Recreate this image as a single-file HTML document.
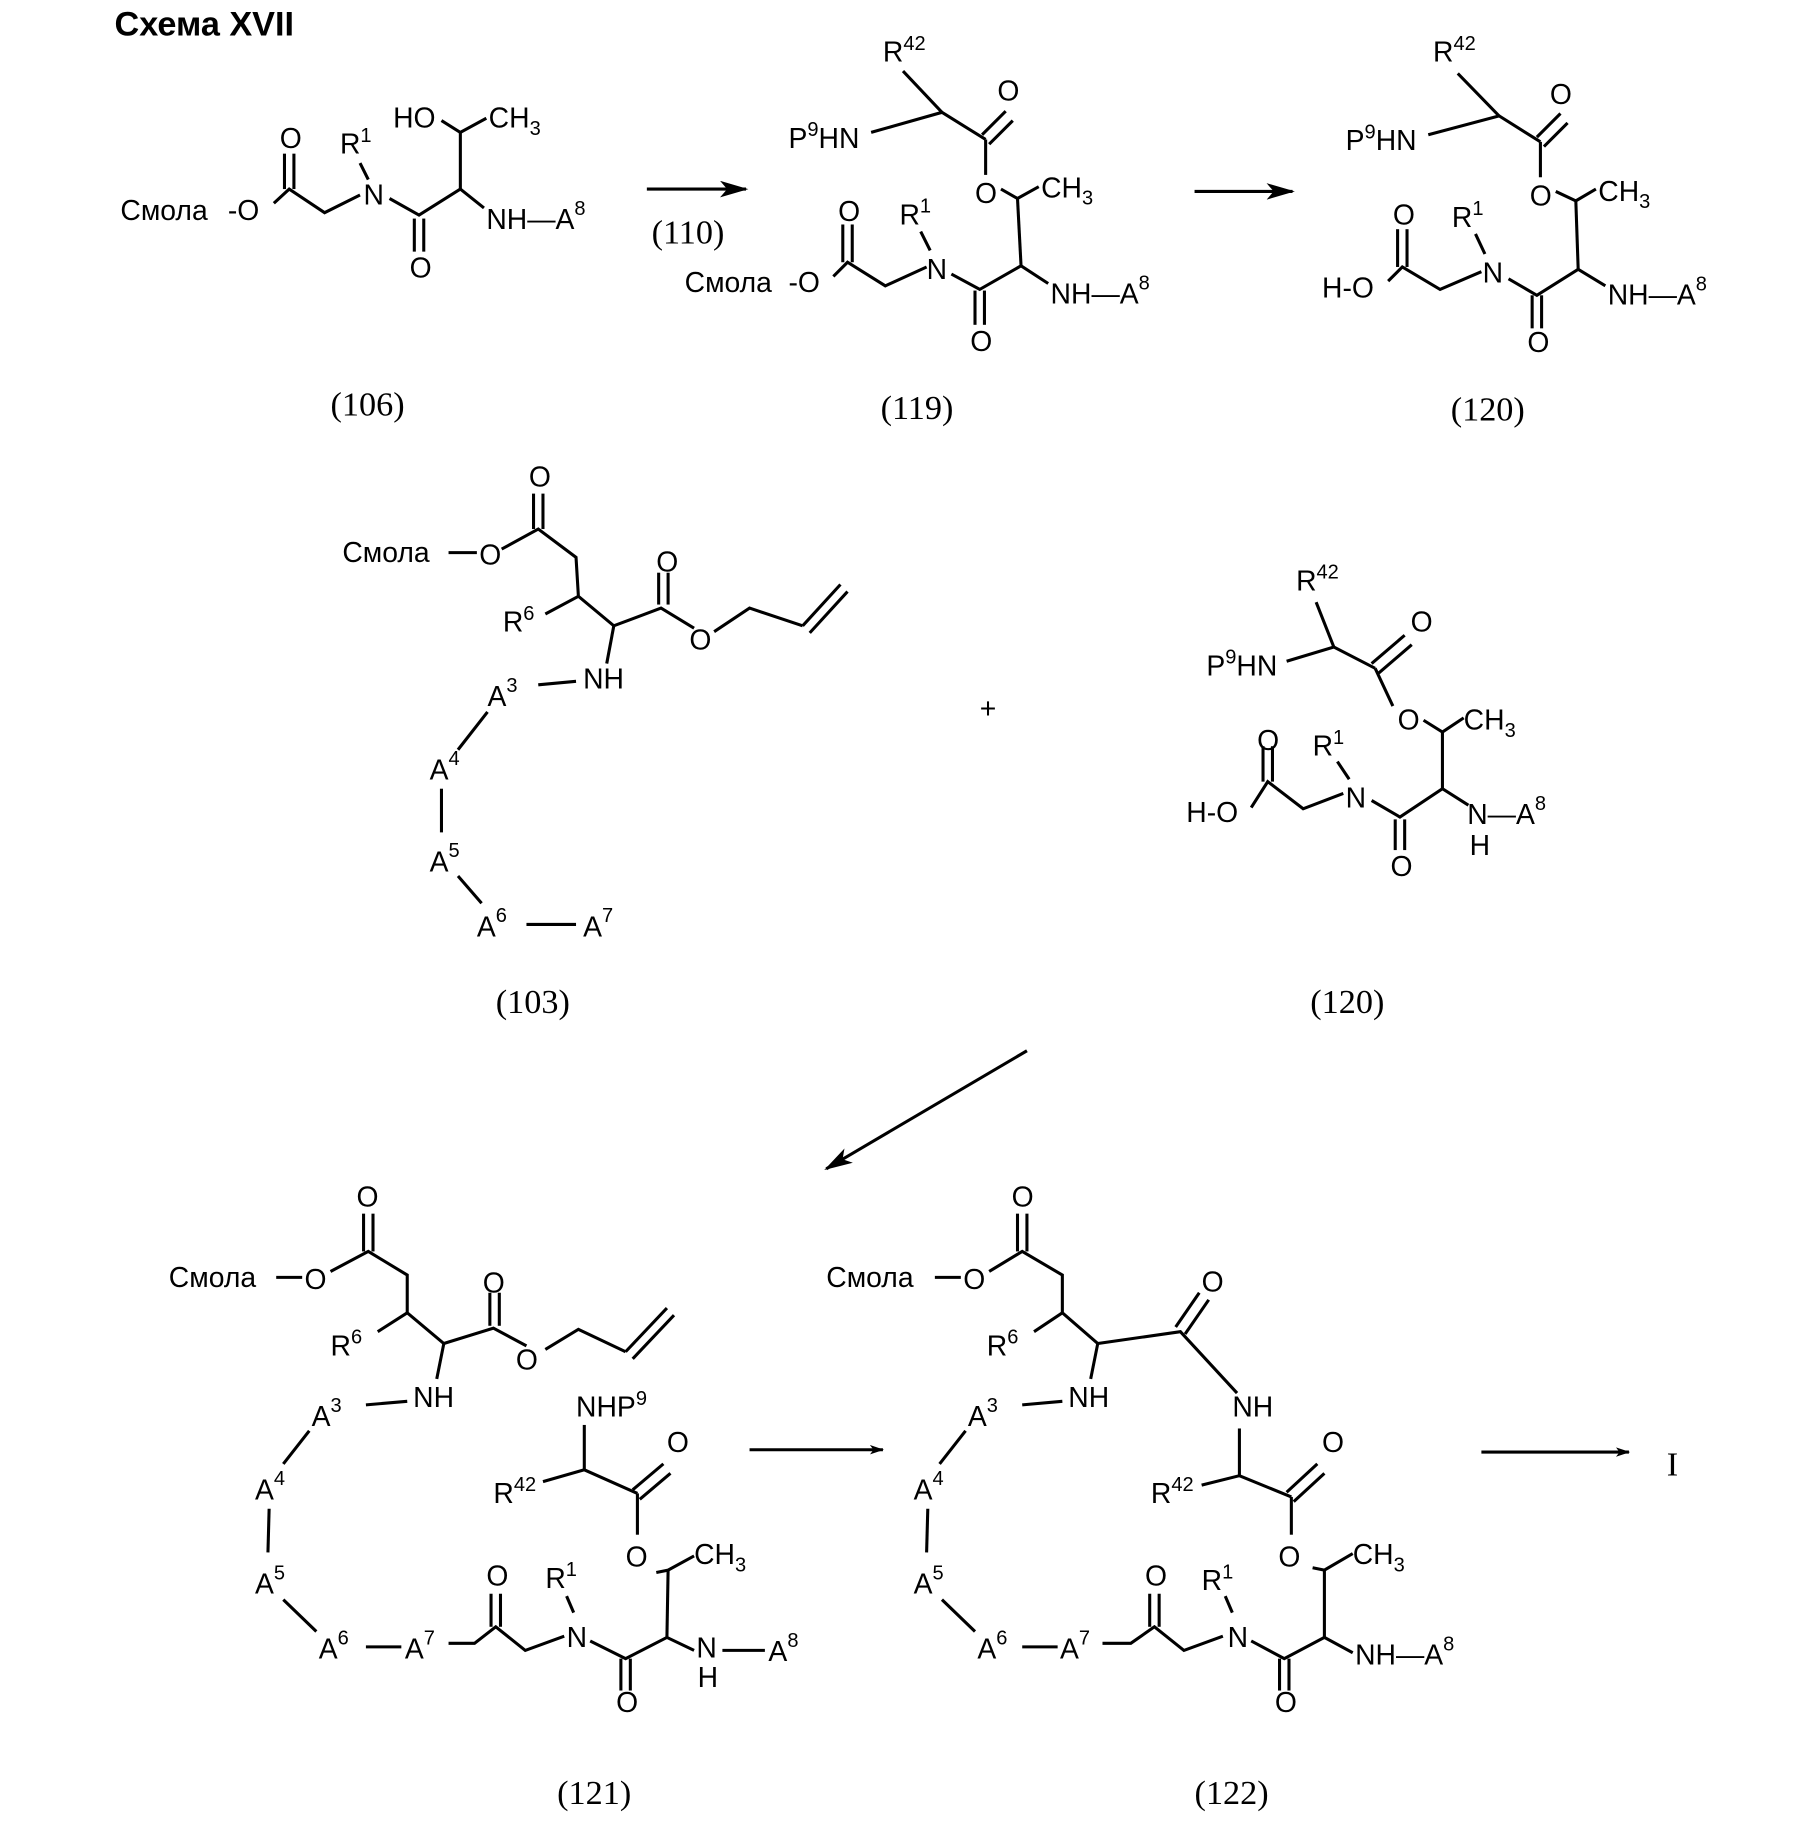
<!DOCTYPE html>
<html><head><meta charset="utf-8"><style>
html,body{margin:0;padding:0;background:#fff}
svg{display:block}
text{font-family:"Liberation Sans",sans-serif;font-size:24px;fill:#000}
.s{font-family:"Liberation Serif",serif;font-size:29px}
.t{font-weight:bold;font-size:29px}
line,polyline{stroke:#000;stroke-width:2.6;fill:none}
</style></head><body>
<svg width="1806" height="1843" viewBox="0 0 1530 1561" xmlns="http://www.w3.org/2000/svg">
<defs><marker id="ah" markerWidth="12" markerHeight="8" refX="11" refY="4" orient="auto" markerUnits="userSpaceOnUse" viewBox="0 0 12 8"><path d="M0,0 L12,4 L0,8 L3,4z" fill="#000"/></marker>
<marker id="ah2" markerWidth="24" markerHeight="14" refX="22" refY="7" orient="auto" markerUnits="userSpaceOnUse" viewBox="0 0 24 14"><path d="M0,0 L24,7 L0,14 L6,7z" fill="#000"/></marker></defs>
<text class="t" x="97" y="30">Схема XVII</text>

<!-- 106 -->
<text x="102" y="186">Смола</text><text x="193" y="186">-O</text>
<polyline points="232,172 245,160 275,180 305,165"/>
<line x1="241" y1="130" x2="241" y2="160"/><line x1="249" y1="130" x2="249" y2="160"/>
<text x="237" y="125">O</text>
<text x="308" y="173">N</text>
<text x="288" y="130">R<tspan dy="-10" font-size="17">1</tspan></text>
<line x1="305" y1="138" x2="312" y2="152"/>
<polyline points="330,168 355,182 390,160"/>
<line x1="351" y1="185" x2="351" y2="213"/><line x1="359" y1="185" x2="359" y2="213"/>
<text x="347" y="235">O</text>
<line x1="390" y1="160" x2="390" y2="112"/>
<line x1="390" y1="112" x2="374" y2="102"/><line x1="390" y1="112" x2="412" y2="100"/>
<text x="333" y="108">HO</text><text x="414" y="108">CH<tspan dy="6" font-size="17">3</tspan></text>
<line x1="390" y1="160" x2="410" y2="176"/>
<text x="412" y="194">NH—A<tspan dy="-12" font-size="17">8</tspan></text>
<line x1="548" y1="160" x2="632" y2="160" marker-end="url(#ah2)"/>
<text class="s" x="552" y="206">(110)</text>
<text class="s" x="280" y="352">(106)</text>

<!-- 119 -->
<text x="748" y="52">R<tspan dy="-10" font-size="17">42</tspan></text>
<text x="668" y="125">P<tspan dy="-10" font-size="17">9</tspan><tspan dy="10">HN</tspan></text>
<polyline points="738,112 798,95 835,118"/><line x1="765" y1="60" x2="798" y2="95"/>
<line x1="832" y1="114" x2="852" y2="94"/><line x1="838" y1="122" x2="858" y2="102"/>
<text x="845" y="85">O</text>
<line x1="835" y1="118" x2="835" y2="148"/>
<text x="826" y="172">O</text>
<polyline points="848,160 862,168 880,158"/>
<text x="882" y="167">CH<tspan dy="6" font-size="17">3</tspan></text>
<line x1="862" y1="168" x2="865" y2="225"/>
<text x="580" y="247">Смола</text><text x="668" y="247">-O</text>
<polyline points="706,234 718,222 750,242 785,226"/>
<line x1="714" y1="190" x2="714" y2="222"/><line x1="722" y1="190" x2="722" y2="222"/>
<text x="710" y="187">O</text>
<text x="785" y="236">N</text>
<text x="762" y="190">R<tspan dy="-10" font-size="17">1</tspan></text>
<line x1="780" y1="196" x2="788" y2="212"/>
<polyline points="806,232 830,245 865,225 888,240"/>
<line x1="826" y1="246" x2="826" y2="275"/><line x1="834" y1="246" x2="834" y2="275"/>
<text x="822" y="297">O</text>
<text x="890" y="257">NH—A<tspan dy="-12" font-size="17">8</tspan></text>
<text class="s" x="746" y="355">(119)</text>
<line x1="1012" y1="162" x2="1095" y2="162" marker-end="url(#ah2)"/>

<!-- 120 top -->
<text x="1214" y="52">R<tspan dy="-10" font-size="17">42</tspan></text>
<text x="1140" y="127">P<tspan dy="-10" font-size="17">9</tspan><tspan dy="10">HN</tspan></text>
<polyline points="1210,114 1270,98 1305,120"/><line x1="1235" y1="62" x2="1270" y2="98"/>
<line x1="1302" y1="116" x2="1322" y2="96"/><line x1="1308" y1="124" x2="1328" y2="104"/>
<text x="1313" y="88">O</text>
<line x1="1305" y1="120" x2="1305" y2="150"/>
<text x="1296" y="174">O</text>
<polyline points="1318,162 1335,170 1352,160"/>
<text x="1354" y="170">CH<tspan dy="6" font-size="17">3</tspan></text>
<line x1="1335" y1="170" x2="1337" y2="228"/>
<text x="1120" y="252">H-O</text>
<polyline points="1176,238 1188,226 1220,245 1255,230"/>
<line x1="1184" y1="194" x2="1184" y2="226"/><line x1="1192" y1="194" x2="1192" y2="226"/>
<text x="1180" y="190">O</text>
<text x="1256" y="239">N</text>
<text x="1230" y="192">R<tspan dy="-10" font-size="17">1</tspan></text>
<line x1="1250" y1="198" x2="1258" y2="215"/>
<polyline points="1278,236 1302,250 1337,228 1360,242"/>
<line x1="1298" y1="250" x2="1298" y2="278"/><line x1="1306" y1="250" x2="1306" y2="278"/>
<text x="1294" y="298">O</text>
<text x="1362" y="258">NH—A<tspan dy="-12" font-size="17">8</tspan></text>
<text class="s" x="1229" y="356">(120)</text>

<!-- 103 -->
<text x="448" y="412">O</text>
<line x1="452" y1="418" x2="452" y2="448"/><line x1="460" y1="418" x2="460" y2="448"/>
<text x="290" y="476">Смола</text><line x1="380" y1="468" x2="404" y2="468"/><text x="406" y="478">O</text>
<polyline points="425,465 456,448 488,472 490,505 520,530 560,515 588,532"/>
<line x1="558" y1="512" x2="558" y2="485"/><line x1="566" y1="512" x2="566" y2="485"/>
<text x="556" y="484">O</text>
<text x="584" y="550">O</text>
<polyline points="605,535 635,515 680,530"/>
<line x1="680" y1="530" x2="712" y2="495"/><line x1="686" y1="536" x2="718" y2="501"/>
<line x1="490" y1="505" x2="462" y2="520"/>
<text x="426" y="535">R<tspan dy="-10" font-size="17">6</tspan></text>
<line x1="520" y1="530" x2="514" y2="562"/>
<text x="494" y="583">NH</text>
<line x1="456" y1="580" x2="488" y2="577"/>
<text x="413" y="598">A<tspan dy="-12" font-size="17">3</tspan></text>
<line x1="413" y1="603" x2="388" y2="635"/>
<text x="364" y="660">A<tspan dy="-12" font-size="17">4</tspan></text>
<line x1="374" y1="668" x2="374" y2="705"/>
<text x="364" y="738">A<tspan dy="-12" font-size="17">5</tspan></text>
<line x1="388" y1="742" x2="408" y2="765"/>
<text x="404" y="793">A<tspan dy="-12" font-size="17">6</tspan></text>
<line x1="446" y1="783" x2="488" y2="783"/>
<text x="494" y="793">A<tspan dy="-12" font-size="17">7</tspan></text>
<text class="s" x="420" y="858">(103)</text>
<text x="830" y="608" font-size="28">+</text>

<!-- 120 middle -->
<text x="1098" y="500">R<tspan dy="-10" font-size="17">42</tspan></text>
<text x="1022" y="572">P<tspan dy="-10" font-size="17">9</tspan><tspan dy="10">HN</tspan></text>
<polyline points="1090,560 1130,548 1165,566"/><line x1="1115" y1="510" x2="1130" y2="548"/>
<line x1="1162" y1="562" x2="1190" y2="538"/><line x1="1168" y1="570" x2="1196" y2="546"/>
<text x="1195" y="535">O</text>
<line x1="1165" y1="566" x2="1180" y2="598"/>
<text x="1184" y="618">O</text>
<polyline points="1206,610 1222,620 1240,608"/>
<text x="1240" y="618">CH<tspan dy="6" font-size="17">3</tspan></text>
<line x1="1222" y1="620" x2="1222" y2="668"/>
<text x="1005" y="696">H-O</text>
<polyline points="1060,684 1074,662 1104,685 1138,672"/>
<line x1="1070" y1="632" x2="1070" y2="662"/><line x1="1078" y1="632" x2="1078" y2="662"/>
<text x="1065" y="635">O</text>
<text x="1140" y="684">N</text>
<text x="1112" y="640">R<tspan dy="-10" font-size="17">1</tspan></text>
<line x1="1133" y1="645" x2="1143" y2="660"/>
<polyline points="1162,678 1186,692 1222,668 1244,682"/>
<line x1="1182" y1="694" x2="1182" y2="720"/><line x1="1190" y1="694" x2="1190" y2="720"/>
<text x="1178" y="742">O</text>
<text x="1243" y="698">N—A<tspan dy="-12" font-size="17">8</tspan></text>
<text x="1245" y="724">H</text>
<text class="s" x="1110" y="858">(120)</text>

<line x1="870" y1="890" x2="700" y2="990" marker-end="url(#ah2)"/>

<!-- 121 -->
<text x="302" y="1022">O</text>
<line x1="308" y1="1028" x2="308" y2="1060"/><line x1="316" y1="1028" x2="316" y2="1060"/>
<text x="143" y="1090">Смола</text><line x1="234" y1="1082" x2="256" y2="1082"/><text x="258" y="1092">O</text>
<polyline points="280,1077 312,1060 345,1080 345,1112 376,1138 418,1125 446,1140"/>
<line x1="415" y1="1123" x2="415" y2="1095"/><line x1="423" y1="1123" x2="423" y2="1095"/>
<text x="409" y="1095">O</text>
<text x="437" y="1160">O</text>
<polyline points="462,1143 490,1126 530,1145"/>
<line x1="530" y1="1145" x2="565" y2="1108"/><line x1="536" y1="1151" x2="571" y2="1114"/>
<line x1="345" y1="1112" x2="320" y2="1128"/>
<text x="280" y="1148">R<tspan dy="-10" font-size="17">6</tspan></text>
<line x1="376" y1="1138" x2="370" y2="1168"/>
<text x="350" y="1192">NH</text>
<line x1="310" y1="1190" x2="345" y2="1187"/>
<text x="264" y="1208">A<tspan dy="-12" font-size="17">3</tspan></text>
<line x1="262" y1="1212" x2="240" y2="1240"/>
<text x="216" y="1270">A<tspan dy="-12" font-size="17">4</tspan></text>
<line x1="228" y1="1278" x2="227" y2="1315"/>
<text x="216" y="1350">A<tspan dy="-12" font-size="17">5</tspan></text>
<line x1="240" y1="1355" x2="268" y2="1382"/>
<text x="270" y="1405">A<tspan dy="-12" font-size="17">6</tspan></text>
<line x1="310" y1="1395" x2="340" y2="1395"/>
<text x="343" y="1405">A<tspan dy="-12" font-size="17">7</tspan></text>
<polyline points="380,1392 402,1392 420,1378 445,1398 478,1386"/>
<line x1="416" y1="1378" x2="416" y2="1350"/><line x1="424" y1="1378" x2="424" y2="1350"/>
<text x="412" y="1343">O</text>
<text x="480" y="1395">N</text>
<text x="462" y="1345">R<tspan dy="-10" font-size="17">1</tspan></text>
<line x1="480" y1="1352" x2="486" y2="1366"/>
<polyline points="500,1390 530,1405 565,1387 588,1398"/>
<line x1="526" y1="1405" x2="526" y2="1432"/><line x1="534" y1="1405" x2="534" y2="1432"/>
<text x="522" y="1450">O</text>
<text x="590" y="1404">N</text>
<text x="591" y="1429">H</text>
<line x1="612" y1="1398" x2="648" y2="1398"/>
<text x="651" y="1407">A<tspan dy="-12" font-size="17">8</tspan></text>
<line x1="565" y1="1387" x2="566" y2="1330"/>
<polyline points="556,1332 566,1330 588,1318"/>
<text x="530" y="1327">O</text><text x="588" y="1325">CH<tspan dy="6" font-size="17">3</tspan></text>
<line x1="540" y1="1265" x2="540" y2="1300"/>
<line x1="536" y1="1262" x2="562" y2="1240"/><line x1="542" y1="1270" x2="568" y2="1248"/>
<text x="565" y="1230">O</text>
<polyline points="460,1255 495,1245 540,1265"/><line x1="495" y1="1245" x2="495" y2="1207"/>
<text x="488" y="1200">NHP<tspan dy="-10" font-size="17">9</tspan></text>
<text x="418" y="1273">R<tspan dy="-10" font-size="17">42</tspan></text>
<line x1="635" y1="1228" x2="748" y2="1228" marker-end="url(#ah)"/>
<text class="s" x="472" y="1528">(121)</text>

<!-- 122 -->
<text x="857" y="1022">O</text>
<line x1="862" y1="1028" x2="862" y2="1060"/><line x1="870" y1="1028" x2="870" y2="1060"/>
<text x="700" y="1090">Смола</text><line x1="792" y1="1082" x2="814" y2="1082"/><text x="816" y="1092">O</text>
<polyline points="838,1077 866,1060 900,1080 900,1112 930,1138 1000,1128 1048,1180"/>
<line x1="996" y1="1124" x2="1016" y2="1095"/><line x1="1004" y1="1130" x2="1024" y2="1101"/>
<text x="1018" y="1094">O</text>
<line x1="900" y1="1112" x2="876" y2="1128"/>
<text x="836" y="1148">R<tspan dy="-10" font-size="17">6</tspan></text>
<line x1="930" y1="1138" x2="924" y2="1168"/>
<text x="905" y="1192">NH</text>
<line x1="866" y1="1190" x2="900" y2="1187"/>
<text x="820" y="1208">A<tspan dy="-12" font-size="17">3</tspan></text>
<line x1="818" y1="1212" x2="796" y2="1240"/>
<text x="774" y="1270">A<tspan dy="-12" font-size="17">4</tspan></text>
<line x1="786" y1="1278" x2="785" y2="1315"/>
<text x="774" y="1350">A<tspan dy="-12" font-size="17">5</tspan></text>
<line x1="798" y1="1355" x2="826" y2="1382"/>
<text x="828" y="1405">A<tspan dy="-12" font-size="17">6</tspan></text>
<line x1="866" y1="1395" x2="896" y2="1395"/>
<text x="898" y="1405">A<tspan dy="-12" font-size="17">7</tspan></text>
<polyline points="934,1392 958,1392 978,1378 1003,1398 1036,1386"/>
<line x1="974" y1="1378" x2="974" y2="1350"/><line x1="982" y1="1378" x2="982" y2="1350"/>
<text x="970" y="1343">O</text>
<text x="1040" y="1395">N</text>
<text x="1018" y="1347">R<tspan dy="-10" font-size="17">1</tspan></text>
<line x1="1038" y1="1352" x2="1044" y2="1366"/>
<polyline points="1060,1390 1088,1405 1122,1387 1146,1400"/>
<line x1="1084" y1="1405" x2="1084" y2="1432"/><line x1="1092" y1="1405" x2="1092" y2="1432"/>
<text x="1080" y="1450">O</text>
<text x="1148" y="1410">NH—A<tspan dy="-12" font-size="17">8</tspan></text>
<line x1="1122" y1="1387" x2="1122" y2="1330"/>
<polyline points="1112,1328 1122,1330 1146,1316"/>
<text x="1083" y="1327">O</text><text x="1146" y="1325">CH<tspan dy="6" font-size="17">3</tspan></text>
<line x1="1094" y1="1268" x2="1094" y2="1300"/>
<line x1="1090" y1="1264" x2="1116" y2="1240"/><line x1="1096" y1="1272" x2="1122" y2="1248"/>
<text x="1120" y="1230">O</text>
<polyline points="1018,1258 1050,1250 1094,1268"/><line x1="1050" y1="1250" x2="1050" y2="1210"/>
<text x="1044" y="1200">NH</text>
<text x="975" y="1273">R<tspan dy="-10" font-size="17">42</tspan></text>
<line x1="1255" y1="1230" x2="1380" y2="1230" marker-end="url(#ah)"/>
<text class="s" x="1412" y="1250">I</text>
<text class="s" x="1012" y="1528">(122)</text>
</svg>
</body></html>
